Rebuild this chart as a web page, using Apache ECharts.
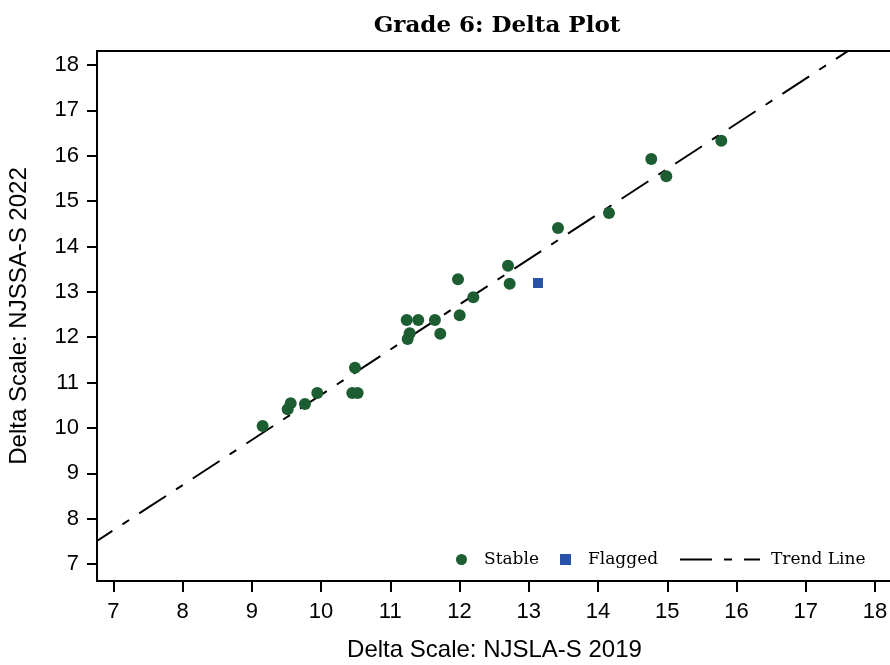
<!DOCTYPE html>
<html>
<head>
<meta charset="utf-8">
<script src="https://cdn.jsdelivr.net/npm/echarts@6/dist/echarts.min.js"></script>
<style>html,body{margin:0;padding:0;background:#fff}#c{width:890px;height:665px}</style>
</head>
<body>
<div id="c"></div>
<script>
// Stable items: x = NJSLA-S 2019 delta, y = NJSSA-S 2022 delta
const stableX = [9.157, 9.518, 9.562, 9.768, 9.946, 10.490, 10.451, 10.529, 11.237, 11.404, 11.645, 11.280, 11.251, 11.722, 11.978, 12.002, 12.199, 12.700, 12.724, 13.422, 14.158, 14.769, 14.986, 15.780];
const stableY = [10.042, 10.411, 10.543, 10.527, 10.770, 11.328, 10.770, 10.770, 12.379, 12.379, 12.379, 12.086, 11.960, 12.077, 13.276, 12.483, 12.880, 13.576, 13.179, 14.407, 14.738, 15.928, 15.547, 16.332];
// Flagged items
const flaggedX = [13.133];
const flaggedY = [13.195];
// Trend line end points
const trendX = [6.6, 17.8];
const trendY = [7.343, 18.499];
// Tick labels
const xTicks = [7, 8, 9, 10, 11, 12, 13, 14, 15, 16, 17, 18];
const yTicks = [7, 8, 9, 10, 11, 12, 13, 14, 15, 16, 17, 18];

const sans = "'Liberation Sans', Arial, sans-serif";
const serif = "'DejaVu Serif', serif";
const pair = (xs, ys) => xs.map((x, i) => [x, ys[i]]);

const chart = echarts.init(document.getElementById('c'), null, {renderer: 'canvas'});
chart.setOption({
  animation: false,
  backgroundColor: '#ffffff',
  title: {
    text: 'Grade 6: Delta Plot',
    left: 492, top: 10, textAlign: 'center',
    textStyle: {fontFamily: serif, fontWeight: 'bold', fontSize: 23, color: '#000'}
  },
  grid: {left: 97, top: 51, right: -2, bottom: 84, show: true, borderColor: '#000', borderWidth: 2, backgroundColor: 'transparent', outerBoundsMode: 'none', containLabel: false},
  xAxis: {
    type: 'value', min: 6.765, max: 18.245,
    name: 'Delta Scale: NJSLA-S 2019', nameLocation: 'middle', nameGap: 57,
    nameTextStyle: {fontFamily: sans, fontSize: 24, color: '#000'},
    axisLine: {show: true, onZero: false, lineStyle: {color: '#000', width: 2}},
    axisTick: {show: true, length: 11, lineStyle: {color: '#000', width: 2}, customValues: xTicks},
    axisLabel: {fontFamily: sans, fontSize: 22, color: '#000', margin: 20, customValues: xTicks},
    splitLine: {show: false}
  },
  yAxis: {
    type: 'value', min: 6.625, max: 18.309,
    name: 'Delta Scale: NJSSA-S 2022', nameLocation: 'middle', nameGap: 66, nameRotate: 90,
    nameTextStyle: {fontFamily: sans, fontSize: 24, color: '#000'},
    axisLine: {show: true, onZero: false, lineStyle: {color: '#000', width: 2}},
    axisTick: {show: true, length: 10, lineStyle: {color: '#000', width: 2}, customValues: yTicks},
    axisLabel: {fontFamily: sans, fontSize: 22, color: '#000', margin: 18, customValues: yTicks},
    splitLine: {show: false}
  },
  legend: [
    {
      data: [{name: 'Stable', icon: 'circle'}, {name: 'Flagged', icon: 'rect'}],
      left: 451, top: 546, itemWidth: 11, itemHeight: 11, itemGap: 21,
      textStyle: {fontFamily: serif, fontSize: 17, color: '#000', padding: [0, 0, 0, 12]}
    },
    {
      data: [{name: 'Trend Line', icon: 'path://M0,0h32v2h-32zM44,0h8v2h-8zM64,0h16v2h-16z'}],
      left: 675, top: 546, itemWidth: 80, itemHeight: 2,
      textStyle: {fontFamily: serif, fontSize: 17, color: '#000', padding: [0, 0, 0, 6]}
    }
  ],
  series: [
    {
      name: 'Trend Line', type: 'line', data: pair(trendX, trendY),
      symbol: 'none', clip: true, z: 1,
      lineStyle: {color: '#000', width: 2, type: [32, 12, 8, 12]},
      itemStyle: {color: '#000'}
    },
    {
      name: 'Stable', type: 'scatter', data: pair(stableX, stableY),
      symbol: 'circle', symbolSize: 12, z: 3,
      itemStyle: {color: '#1c5e32', opacity: 1}
    },
    {
      name: 'Flagged', type: 'scatter', data: pair(flaggedX, flaggedY),
      symbol: 'rect', symbolSize: 10, z: 3,
      itemStyle: {color: '#2852a8', opacity: 1}
    }
  ]
});
</script>
</body>
</html>
